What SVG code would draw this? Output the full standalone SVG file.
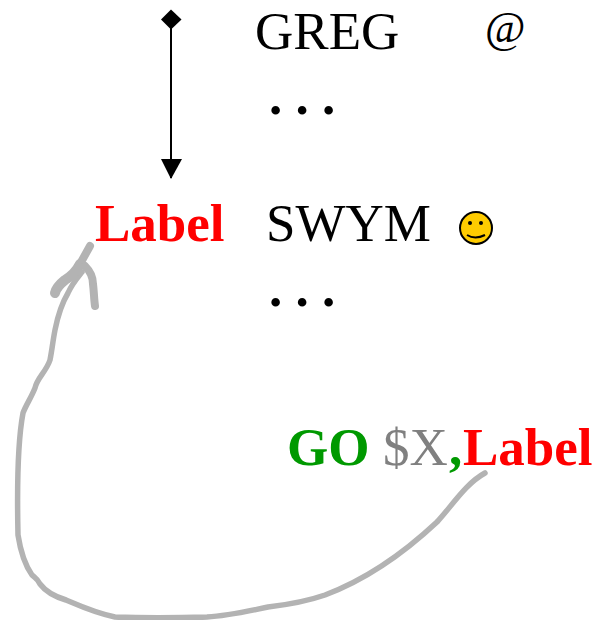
<svg xmlns="http://www.w3.org/2000/svg" width="595" height="620" viewBox="0 0 595 620">
<style>
text{font-family:"Liberation Serif","Times New Roman",serif;font-size:53px;fill:#000}
.b{font-weight:bold}
.r{fill:#f00}
.g{fill:#090}
.y{fill:#808080}
.c{fill:none;stroke:#b3b3b3;stroke-width:5.500;stroke-linecap:round;stroke-linejoin:round}
.h{stroke-width:10}
.k{stroke-width:8}
</style>
<g id="connectors">
<path d="M171 19V178" stroke="#000" stroke-width="2" fill="none"/>
<path d="M171 9.500L181.500 19.500L171 29.500L161 19.500Z" fill="#000"/>
<path d="M161 159H182L171 179Z" fill="#000"/>
<path class="c" d="M485 473C465 484 452 506 437 522C405 552 370 578 325 595C305 602 285 605 268 607C245 612 225 616 207 617C175 618 140 618 115 617C95 613 80 606 66 600C56 597 46 592 40 584C37 578 35 578 32 575C25 565 20 548 18 535C17 490 17 445 23 413C26 405 31 398 35 388C37 378 46 372 50 360C52 350 53 340 55 330C58 315 62 303 68 293C72 284 78 277 82 272"/>
<path class="c k" d="M90 246L80 264"/>
<path class="c h" d="M80 264C76 272 70 277 65 280C60 284 56 288 55 293"/>
<path class="c k" d="M85 266C91 272 93 277 93 284C94 292 94 299 95 306"/>
</g>
<g id="greg"><text x="255" y="49">GREG</text></g>
<g id="at"><text x="485" y="42" style="font-size:44px">@</text></g>
<g id="dots1"><text x="269" y="114" class="b">. . .</text></g>
<g id="label"><text x="95" y="241" class="b r">Label</text></g>
<g id="swym"><text x="266" y="241">SWYM</text></g>
<g id="smiley">
<circle cx="476" cy="228" r="16" fill="#fc0" stroke="#000" stroke-width="2"/>
<circle cx="470" cy="223" r="2"/>
<circle cx="481" cy="223" r="2"/>
<path d="M467 235Q475 240 485 235" fill="none" stroke="#000" stroke-width="2"/>
</g>
<g id="dots2"><text x="269" y="306" class="b">. . .</text></g>
<g id="go"><text x="287" y="465" class="b g">GO</text><text x="383" y="465" class="y">$X</text><text x="449" y="465" class="b g">,</text><text x="463" y="465" class="b r">Label</text></g>
</svg>
